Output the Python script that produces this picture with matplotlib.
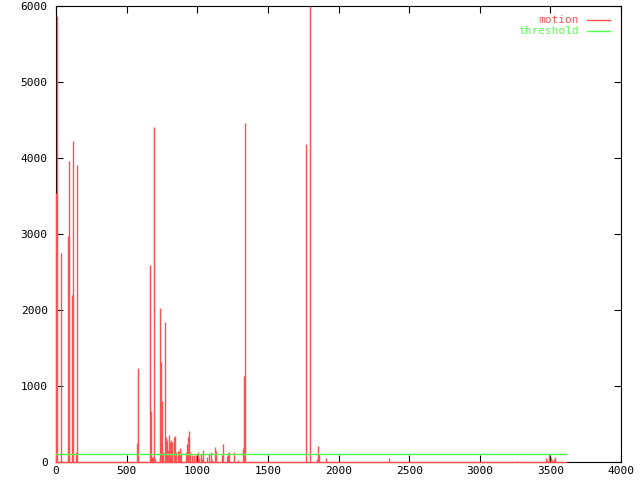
import matplotlib
matplotlib.use("Agg")
from matplotlib import pyplot as plt

# frame numbers and motion values of the spikes
frames = [0, 7, 30, 38, 87, 94, 115, 122, 144, 151,
          576, 583, 668, 675, 680, 687, 696, 701, 733, 738,
          743, 750, 760, 774, 779, 786, 793, 800, 807, 814,
          821, 835, 842, 850, 864, 871, 878, 885, 920, 925,
          932, 942, 952, 963, 975, 989, 1005, 1010, 1027, 1036,
          1043, 1069, 1085, 1095, 1102, 1128, 1135, 1175, 1182, 1213,
          1220, 1227, 1262, 1291, 1326, 1333, 1340, 1772, 1800, 1850,
          1857, 1862, 1914, 2360, 3266, 3469, 3478, 3492, 3502, 3514,
          3524, 3531]
motion = [3540, 5870, 15, 2750, 2974, 3960, 2197, 4224, 130, 3908,
          250, 1237, 2592, 671, 66, 66, 4408, 40, 60, 2026,
          1316, 803, 130, 1842, 330, 290, 160, 355, 265, 290,
          265, 330, 340, 130, 145, 150, 185, 119, 135, 237,
          333, 408, 130, 90, 90, 90, 130, 50, 105, 40,
          154, 60, 105, 130, 30, 197, 145, 90, 237, 75,
          120, 136, 130, 30, 190, 1130, 4460, 4190, 6000, 40,
          210, 100, 50, 48, 10, 48, 30, 100, 60, 25,
          45, 60]
last_frame = 3610
threshold = 100

RED = '#ff5050'
GREEN = '#50ff50'
LW = 1.0

plt.rcParams['font.family'] = ['DejaVu Sans Mono']
fig = plt.figure(figsize=(6.4, 4.8), dpi=100)
ax = fig.add_axes([56 / 640, 18 / 480, 565 / 640, 456 / 480])

ax.vlines(frames, 0, motion, colors=RED, linewidth=LW,
          zorder=3, clip_on=False)
ax.plot([0, last_frame], [0, 0], color=RED, lw=LW,
        zorder=3, clip_on=False)
ax.plot([0, last_frame], [threshold, threshold], color=GREEN, lw=LW,
        zorder=3)

ax.set_xlim(0, 4000)
ax.set_ylim(0, 6000)
ax.set_xticks(range(0, 4001, 500))
ax.set_yticks(range(0, 6001, 1000))
ax.tick_params(direction='in', length=5, width=0.8, top=True, right=True,
               labelsize=8, pad=3)
ax.tick_params(axis='y', pad=6)
for s in ax.spines.values():
    s.set_linewidth(0.8)

# key, gnuplot style
ax.text(0.926, 0.969, 'motion', color=RED, ha='right', va='center',
        fontsize=8, transform=ax.transAxes)
ax.plot([0.94, 0.98], [0.969, 0.969], color=RED, lw=LW,
        transform=ax.transAxes)
ax.text(0.926, 0.945, 'threshold', color=GREEN, ha='right', va='center',
        fontsize=8, transform=ax.transAxes)
ax.plot([0.94, 0.98], [0.945, 0.945], color=GREEN, lw=LW,
        transform=ax.transAxes)

fig.savefig('out.png', dpi=100)
